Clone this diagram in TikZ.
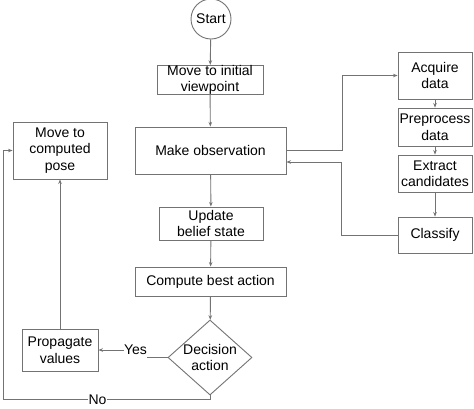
\documentclass[tikz,border=0pt]{standalone}
\usepackage{fontspec}
\setmainfont{Liberation Sans}
\usetikzlibrary{arrows.meta,shapes.geometric}
\definecolor{linegray}{RGB}{115,115,115}
\begin{document}
\begin{tikzpicture}[x=1pt,y=-1pt,
  font=\fontsize{14}{16.5}\selectfont,
  box/.style={draw=linegray,line width=0.9pt,align=center,inner sep=0pt},
  arr/.style={draw=linegray,line width=0.9pt,-{Stealth[length=4.5pt,width=3.5pt]}},
  ln/.style={draw=linegray,line width=0.9pt}]
\useasboundingbox (0,0) rectangle (474,408);
\fill[white] (0,0) rectangle (474,408);
\node[box,circle,minimum size=40pt] (start) at (211,19) {Start};
\node[box,minimum width=106pt,minimum height=28pt] (init) at (210,80) {Move to initial\\viewpoint};
\node[box,minimum width=151pt,minimum height=47pt] (obs) at (210.5,150.5) {Make observation};
\node[box,minimum width=94pt,minimum height=57pt] (pose) at (60,150.5) {Move to\\computed\\pose};
\node[box,minimum width=74pt,minimum height=47pt] (acq) at (435,75.5) {Acquire\\data};
\node[box,minimum width=74pt,minimum height=38pt] (pre) at (435,127) {Preprocess\\data};
\node[box,minimum width=74pt,minimum height=37pt] (ext) at (435,173.5) {Extract\\candidates};
\node[box,minimum width=74pt,minimum height=36pt] (cls) at (435,235) {Classify};
\node[box,minimum width=104pt,minimum height=33pt] (upd) at (211,223.5) {Update\\belief state};
\node[box,minimum width=151pt,minimum height=29pt] (cmp) at (210.5,281.5) {Compute best action};
\node[box,diamond,minimum width=84pt,minimum height=75pt] (dec) at (210,357.5) {};
\node[align=center,inner sep=0pt] (dectext) at (210,357.5) {Decision\\action};
\node[box,minimum width=76pt,minimum height=42pt] (prop) at (60,350) {Propagate\\values};
\node[inner sep=0pt] (yes) at (135.5,350) {Yes};
\coordinate (nl) at (3,399);

\draw[arr] (start) -- (init);
\draw[arr] (init) -- (obs);
\draw[arr] (obs.east) -- ++(56,0) |- (acq.west);
\draw[arr] (acq) -- (pre);
\draw[arr] (pre) -- (ext);
\draw[arr] (ext) -- (cls);
\draw[arr] (cls.west) -- ++(-56,0) |- ([yshift=-11.5pt]obs.east);
\draw[arr] (obs) -- (upd);
\draw[arr] (upd) -- (cmp);
\draw[arr] (cmp) -- (dec);
\draw[ln] (dec.west) -- (dec.west -| yes.east);
\draw[arr] (yes.west) -- (yes.west -| prop.east);
\draw[arr] (prop) -- (pose);
\draw[arr] (dec.south) |- (nl) |- (pose.west);
\node[fill=white,inner sep=1pt] (no) at (97.5,400) {No};
\end{tikzpicture}
\end{document}
